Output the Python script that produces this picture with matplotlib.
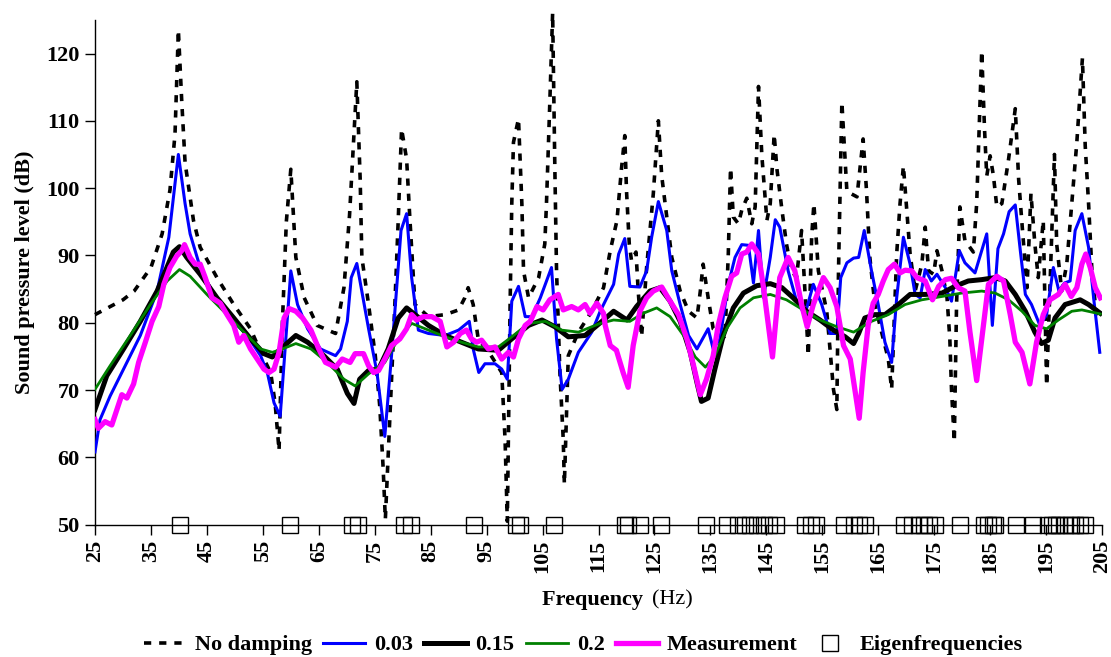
import matplotlib
matplotlib.use("Agg")
import matplotlib.pyplot as plt
from matplotlib.lines import Line2D
from matplotlib.legend_handler import HandlerLine2D

# ---- data ----
nodamp_f = [25, 30, 32, 35, 37, 38.4, 39.3, 39.9, 40.5, 41.1, 42.6, 43.8, 46.8, 49.8, 52.8, 54.9,
            56.4, 57.2, 57.9, 58.5, 59.2, 60, 60.9, 62.4, 64.7, 68, 69.5, 70.5, 71.8, 72.4, 72.7,
            73.9, 75.1, 75.9, 76.5, 76.9, 77.5, 78.6, 79.2, 79.8, 80.7, 81.3, 82.2, 84.6, 87.6, 90,
            91.1, 91.7, 92.6, 93.5, 95.5, 97.7, 98.3, 98.7, 99.2, 99.5, 99.8, 100.7, 101.3, 101.6,
            102.5, 104.3, 105.4, 105.7, 106.3, 106.8, 107.2, 107.5, 108.1, 108.7, 108.9, 109.6,
            111.4, 113.8, 115.9, 117.1, 118.3, 119.1, 119.7, 120, 120.5, 120.9, 121.7, 122.1, 122.7,
            123.6, 124.8, 125.7, 126.3, 127.2, 128.1, 129.6, 131.1, 132.6, 133.2, 133.7, 134.6,
            135.5, 136.4, 137.6, 138.2, 138.6, 139.1, 140, 140.6, 141.5, 142.4, 143, 143.6, 144.2,
            145.1, 145.7, 146.4, 146.9, 147.8, 148.6, 149.5, 150.4, 151.3, 151.9, 152.5, 153.1,
            153.5, 154.3, 155.8, 157, 157.6, 157.9, 158.5, 159.4, 161.2, 162.3, 162.9, 163.5, 164.4,
            165.6, 166.8, 167.4, 168.3, 168.9, 169.5, 170.1, 170.7, 171.6, 172.8, 173.4, 174, 174.9,
            175.5, 176.4, 177.3, 177.8, 178.1, 178.6, 179, 179.6, 180.5, 182, 182.6, 183, 183.5,
            184, 184.4, 185, 185.6, 186.2, 187.1, 188.3, 189.5, 190.1, 190.7, 191.6, 192.3, 193,
            193.6, 194.5, 195.1, 196, 196.5, 196.9, 197.8, 198.7, 199.6, 200.5, 201.5, 202, 202.6,
            203.2, 204.1]
nodamp_db = [81.2, 83.4, 84.7, 88.2, 93.2, 99.7, 108, 123.5, 113, 103.8, 95.2, 91.2, 86.7, 82.7,
             79.1, 75.1, 72.6, 68, 61, 80, 95, 102.8, 89.7, 83.7, 79.6, 78.4, 85.2, 96, 115.8,
             101.3, 89.7, 82.7, 75.1, 67.6, 58.5, 50.8, 62, 82.7, 95.2, 108.8, 104.3, 95.2, 82.7,
             80.9, 81.2, 81.9, 83.7, 85.2, 82.7, 77.6, 75.5, 72.6, 62.6, 50.5, 82.7, 97.7, 106.8,
             110.3, 97.7, 87.7, 83.7, 86.7, 91.7, 97.7, 112.8, 126, 102.8, 87.7, 72.6, 62.6, 56,
             75.1, 78.6, 81.7, 85.2, 90.7, 95.2, 102.8, 107.8, 99.7, 91.7, 89.2, 90.5, 84.7, 77.9,
             88.2, 99.2, 110, 101.8, 95.7, 89.7, 84.7, 81.7, 80.7, 84.7, 88.7, 83.7, 79.1, 78.6,
             77.6, 90.2, 103, 95.7, 94.7, 96.7, 98.5, 94.7, 97.2, 115.1, 104.8, 95.2, 97.7, 108,
             102.8, 96.7, 91.7, 87.7, 86.7, 93.7, 84.7, 75.1, 92.7, 97.7, 87.7, 81.7, 70.1, 67.1,
             87.7, 112.8, 99.5, 98.7, 107.3, 99.7, 89.7, 82.7, 78.6, 74.6, 70.1, 90.2, 97.7, 103.3,
             96.7, 90.2, 84.7, 88.7, 94.2, 87.7, 87.2, 90.7, 87.7, 83.7, 77.6, 70.1, 62.3, 82.7,
             97.2, 92.2, 90.5, 97.7, 107.8, 120.4, 108.8, 101.8, 104.8, 101.8, 97.2, 97.7, 104.3,
             111.8, 101.3, 94.7, 85.2, 99.2, 91.7, 86.7, 95.2, 70.6, 92.7, 105, 91.7, 84.7, 88.7,
             97.7, 106.8, 119.3, 106.3, 97.7, 87.7, 80.2]

d003_f = [25, 25.9, 27.7, 30.1, 33.1, 36.1, 38.2, 39.9, 41.1, 42, 43.8, 46.2, 49.2, 52.2, 54.6,
          55.8, 57, 58.1, 60, 61.2, 63, 65.3, 68, 68.9, 70.1, 70.8, 71.8, 73.9, 75.4, 76.8, 78,
          79.7, 80.7, 81.6, 82.8, 84.6, 87.6, 90, 91.9, 92.6, 93.6, 94.7, 96.5, 97.7, 98.7, 99.5,
          100.7, 101.9, 103.1, 104.6, 106.6, 107.5, 108.5, 109.6, 111.4, 113.8, 115.3, 117.7,
          118.6, 119.7, 120.6, 122.4, 123.6, 124.5, 125.7, 127.2, 128.1, 129.6, 131.1, 132.6,
          134.6, 135.5, 136.7, 138.2, 139.4, 140.6, 141.8, 142.7, 143.6, 144.5, 145.7, 146.6,
          147.4, 148.9, 150.4, 151.9, 153.4, 154.9, 156.4, 157.6, 158.3, 159.4, 160.6, 161.5,
          162.5, 163.8, 165, 166.2, 167.4, 168.3, 169.5, 170.7, 171.6, 172.5, 173.4, 174.5, 175.5,
          177, 178.1, 179.5, 180.5, 182.3, 184.4, 185.4, 186.4, 187.4, 188.4, 189.5, 190.4, 191.3,
          192.4, 193.9, 195.1, 196.3, 197.3, 198.3, 199.3, 200.2, 201.4, 202.6, 203.5, 204.6]
d003_db = [60.8, 65.6, 69.1, 73.1, 78.1, 84.7, 92.7, 105, 97.7, 93.2, 88.2, 84.2, 80.7, 78.1, 75.1,
           72.6, 68.1, 66.1, 87.7, 82.7, 79.1, 76.1, 75.1, 76.1, 80.2, 86.7, 88.8, 79.1, 72.6,
           63.1, 75.1, 93.7, 96.2, 86.7, 78.9, 78.4, 78.1, 78.9, 80.2, 76.1, 72.6, 73.9, 73.9,
           73.1, 71.6, 83.2, 85.4, 80.9, 80.9, 83.7, 88.2, 77.6, 70.1, 71.6, 75.6, 78.6, 81.7,
           85.7, 90.2, 92.5, 85.4, 85.3, 87.7, 92.7, 98, 93.7, 87.7, 82.7, 78.1, 76.1, 79.1, 76.1,
           77.6, 85.7, 89.7, 91.6, 91.5, 85.9, 93.7, 83.7, 89.7, 95.3, 94.2, 87.7, 83.2, 81.2,
           85.7, 82.7, 78.4, 78.4, 86.7, 88.9, 89.6, 89.7, 93.7, 87.7, 82.7, 77.1, 74.1, 83.7,
           92.7, 88.7, 84.2, 83.7, 87.9, 86.2, 87.2, 85.2, 83.2, 90.7, 88.9, 87.4, 93.2, 79.6, 91,
           93.2, 96.5, 97.5, 90.7, 84.2, 82.7, 79.6, 81.2, 88.2, 84.7, 85.9, 86.2, 93.7, 96.2,
           91.2, 83.7, 75.6]

d015_f = [25, 27.1, 30.1, 33.1, 36.1, 39, 40.1, 41.4, 43.8, 46.8, 49.8, 52.8, 55.2, 56.7, 58.2,
          60.9, 63, 65.9, 68.3, 70.1, 71.3, 72.3, 73.9, 75.7, 77.4, 79.2, 80.7, 82.2, 84.6, 87.6,
          90.5, 93.5, 97.1, 99.5, 102.5, 104.9, 107.2, 109.6, 112.6, 115.9, 117.7, 120.1, 121.8,
          124.2, 126, 127.8, 129.6, 131.4, 132.6, 133.4, 134.6, 135.8, 137.3, 139.1, 140.9, 143.3,
          145.7, 147.8, 149.8, 152.2, 154.6, 157, 159.1, 160.6, 161.5, 162.6, 164.4, 166.2, 168.6,
          170.7, 173.4, 176.4, 178.7, 181.1, 183.5, 185.9, 187.7, 189.5, 191.3, 193, 194.2, 195.4,
          196.6, 198.4, 201.1, 202.6, 204.7]
d015_db = [67.1, 72.1, 76.1, 80.2, 84.7, 90.5, 91.3, 89.7, 87.2, 83.7, 80.7, 77.6, 75.4, 74.9,
           76.1, 78.1, 77.1, 75.1, 73.1, 69.5, 68, 71.6, 72.9, 73.1, 76.1, 80.7, 82.2, 81.2, 79.6,
           78.1, 77.1, 76.1, 75.9, 77.6, 79.6, 80.4, 79.4, 77.9, 78.1, 80.4, 81.7, 80.4, 82.4,
           84.7, 85.2, 83.2, 80.2, 75.6, 71.1, 68.3, 68.8, 73.1, 78.1, 82.2, 84.4, 85.5, 85.8,
           85.2, 83.7, 81.7, 80.4, 78.9, 77.9, 76.9, 78.4, 80.7, 81.2, 81.2, 82.7, 84.2, 84.2,
           84.4, 85.4, 86.2, 86.4, 86.7, 86.2, 84.2, 81.7, 78.6, 76.9, 77.4, 80.7, 82.7, 83.4,
           82.7, 81.4]

d02_f = [25, 27.7, 31.3, 34.9, 37.9, 40.1, 42, 45, 48, 51.6, 54.6, 56.7, 58.5, 60.9, 63.6, 66.5,
         69.5, 71.5, 73.9, 76.8, 79.2, 81.6, 84.6, 87.6, 90.5, 93.5, 97.1, 99.5, 102.5, 105.5,
         108.4, 111.4, 115.3, 117.7, 120.6, 123, 125.4, 127.8, 130.2, 132.3, 134.1, 135.8, 137.9,
         140.3, 142.7, 145.7, 148.6, 151.6, 154.6, 157.6, 160.6, 163.8, 166.8, 169.8, 172.8,
         176.4, 179.9, 183.5, 185.9, 188.3, 190.7, 193, 195.1, 197.2, 199.6, 201.4, 204.7]
d02_db = [70.1, 73.6, 78.1, 82.7, 86.2, 87.9, 86.9, 84.2, 81.7, 78.6, 76.1, 75.6, 76.1, 76.9, 76.1,
          74.1, 71.6, 70.6, 72.4, 74.1, 77.6, 79.9, 78.9, 77.9, 77.1, 76.4, 76.4, 77.9, 79.9, 80.2,
          78.9, 78.6, 79.9, 80.4, 80.2, 81.4, 82.2, 80.9, 78.1, 74.9, 73.4, 75.1, 79.1, 82.2, 83.7,
          84.2, 83.4, 81.9, 80.4, 79.4, 78.6, 80.2, 81.2, 82.7, 83.4, 83.9, 84.4, 84.7, 84.4,
          83.4, 81.7, 79.6, 79.1, 80.4, 81.7, 81.9, 81.3]

meas_f = [25, 25.6, 26.8, 28, 29.8, 30.7, 31.9, 32.8, 34, 35.2, 36.4, 37.3, 38.4, 39.6, 40.5, 41,
          42, 42.9, 43.8, 44.7, 45.9, 47.4, 48.6, 49.8, 50.7, 51.6, 52.8, 54, 55.2, 56.1, 57,
          57.9, 58.8, 59.7, 60.9, 62.1, 63.6, 65, 66.2, 68, 69.2, 70.6, 71.5, 73, 73.9, 74.8, 75.7,
          76.8, 78, 79.5, 80.7, 81.6, 82.5, 83.7, 85.2, 86.7, 87.9, 89.1, 90.3, 91.4, 92.3, 93.2,
          94.1, 95.3, 96.5, 97.7, 98.9, 99.8, 100.7, 101.9, 102.8, 104, 105.1, 106.3, 107.8,
          108.7, 110.2, 111.4, 112.6, 113.5, 114.7, 115.9, 116.2, 117.1, 118.2, 119.4, 120.3,
          121.2, 122.4, 123.6, 124.8, 126.3, 127.8, 129.3, 130.8, 132, 133.2, 134.3, 135.5,
          136.4, 137.6, 138.8, 139.7, 140.6, 141.5, 142.4, 143.6, 144.5, 146.1, 147.4, 148.9,
          150.1, 151.3, 152.3, 153.4, 155.2, 156.4, 157.6, 158.8, 160, 161, 161.6, 162.3, 163.2,
          164.1, 165, 165.9, 166.8, 167.9, 168.9, 169.8, 171, 171.9, 173.4, 174.7, 175.8, 177,
          178.1, 179.3, 180.5, 181.4, 182.6, 183.8, 184.7, 186.2, 187.4, 188.6, 189.5, 190.7,
          192.1, 193.3, 194.5, 195.7, 197.2, 198.4, 199.5, 200.5, 201.4, 202.1, 202.9, 203.8,
          204.7]
meas_db = [65.6, 64.3, 65.3, 64.8, 69.3, 68.8, 70.9, 74.1, 77.1, 80.2, 82.4, 85.7, 88.2, 89.9,
           90.7, 91.6, 89.7, 88.7, 88.7, 86.7, 83.7, 82.9, 81.2, 79.6, 77.1, 78.1, 76.1, 74.6,
           73.1, 72.6, 73.1, 75.6, 80.7, 82.1, 81.7, 80.7, 78.9, 76.1, 74.1, 73.4, 74.6, 74.1,
           75.4, 75.4, 73.6, 72.6, 72.9, 74.6, 76.6, 77.6, 79.1, 81.2, 80.4, 80.9, 80.9, 80.2,
           76.4, 77.1, 78.4, 78.9, 77.6, 77.1, 77.4, 76.1, 76.4, 74.6, 75.6, 74.9, 77.6, 79.6,
           80.2, 82.4, 81.9, 83.4, 84.2, 81.9, 82.4, 81.9, 82.7, 81.4, 82.9, 81.4, 79.6, 76.6,
           75.9, 72.6, 70.4, 76.6, 81.7, 83.7, 84.7, 85.3, 83.2, 81.2, 77.6, 73.6, 69.3, 71.6,
           75.1, 79.6, 83.7, 86.9, 87.4, 90.2, 90.5, 91.7, 90.2, 85.2, 74.9, 86.7, 89.7, 87.7,
           82.7, 79.4, 82.7, 86.7, 85.2, 82.4, 76.6, 74.6, 69.1, 65.8, 72.6, 79.6, 82.9, 84.2,
           86.2, 87.9, 88.7, 87.4, 87.8, 87.7, 86.7, 86.2, 83.4, 85.4, 86.4, 86.6, 85.2, 84.7,
           78.6, 71.4, 79.6, 85.7, 86.9, 86.2, 81.2, 77.1, 75.6, 70.9, 77.1, 81.2, 83.4, 84.2,
           85.7, 83.9, 85.2, 88.7, 90.2, 88.2, 85.2, 83.7]

eigen_f = [40.2, 59.9, 70.9, 72.1, 80.2, 81.4, 92.8, 100.3, 101.0, 107.0, 119.8, 120.3, 122.5,
           126.2, 134.3, 138.0, 140.0, 141.2, 142.1, 143.4, 144.5, 145.4, 146.8, 151.9, 152.9,
           153.8, 158.9, 160.6, 161.5, 162.6, 169.6, 171.0, 172.2, 173.1, 174.0, 175.2, 179.6,
           183.9, 184.7, 185.6, 185.9, 189.6, 192.7, 195.4, 196.0, 196.8, 197.4, 198.3, 199.5,
           200.1, 201.0, 201.9]
eigen_level = 50

x_ticks = list(range(25, 206, 10))
y_ticks = list(range(50, 121, 10))


class HandlerLeftMarker(HandlerLine2D):
    # put the legend square near the left of its handle box
    def get_xdata(self, legend, xdescent, ydescent, width, height, fontsize):
        return [-xdescent, -xdescent + width], [-xdescent + 0.2 * width]


# ---- figure ----
plt.rcParams["font.family"] = ["Liberation Serif", "DejaVu Serif"]
plt.rcParams["font.weight"] = "bold"
fs = 16

fig = plt.figure(figsize=(11.11, 6.57), dpi=100)
ax = fig.add_axes([95 / 1111, 1 - 524.6 / 657, (1102 - 95) / 1111, (524.6 - 19.85) / 657])

dash = (0, (2.0, 2.2))
ax.plot(nodamp_f, nodamp_db, color="black", lw=2.6, linestyle=dash, clip_on=False, zorder=2)
ax.plot(d003_f, d003_db, color="#0000FF", lw=2.2, zorder=3)
ax.plot(d015_f, d015_db, color="black", lw=3.6, zorder=4)
ax.plot(d02_f, d02_db, color="#008000", lw=2.0, zorder=5)
ax.plot(meas_f, meas_db, color="#FF00FF", lw=3.8, zorder=6)
ax.plot(eigen_f, [eigen_level] * len(eigen_f), linestyle="none", marker="s", ms=11.5,
        mfc="none", mec="black", mew=1.0, clip_on=False, zorder=7)

ax.set_xlim(25, 205)
ax.set_ylim(50, 125)
ax.set_xticks(x_ticks)
ax.set_yticks(y_ticks)
ax.set_xticklabels([str(t) for t in x_ticks], rotation=90, fontsize=fs, fontweight="bold")
ax.set_yticklabels([str(t) for t in y_ticks], fontsize=fs, fontweight="bold")
ax.tick_params(axis="both", direction="out", length=7, width=1, color="black", pad=4)

for side in ["top", "right"]:
    ax.spines[side].set_visible(False)
for side in ["left", "bottom"]:
    ax.spines[side].set_linewidth(1.0)
    ax.spines[side].set_color("black")

ax.set_ylabel("Sound pressure level (dB)", fontsize=fs, fontweight="bold", labelpad=8)

fig.text(649 / 1111, 1 - 600 / 657, "Frequency ", ha="right", va="center",
         fontsize=fs, fontweight="bold")
fig.text(652 / 1111, 1 - 600 / 657, "(Hz)", ha="left", va="center",
         fontsize=fs, fontweight="normal")

eigen_handle = Line2D([], [], linestyle="none", marker="s", ms=11.5, mfc="none",
                      mec="black", mew=1.0)
handles = [
    Line2D([], [], color="black", lw=2.6, linestyle=dash),
    Line2D([], [], color="#0000FF", lw=2.2),
    Line2D([], [], color="black", lw=3.6),
    Line2D([], [], color="#008000", lw=2.0),
    Line2D([], [], color="#FF00FF", lw=3.8),
    eigen_handle,
]
labels = ["No damping", "0.03", "0.15", "0.2", "Measurement", "Eigenfrequencies"]
fig.legend(handles, labels, loc="center", bbox_to_anchor=(0.525, 1 - 645 / 657), ncol=6,
           frameon=False, fontsize=fs, handlelength=1.9, handletextpad=0.4, columnspacing=0.5,
           borderaxespad=0, handler_map={eigen_handle: HandlerLeftMarker()})

fig.savefig("out.png", dpi=100)
